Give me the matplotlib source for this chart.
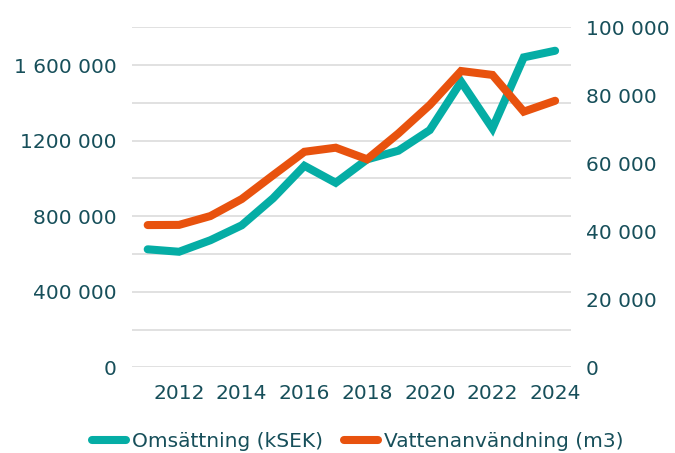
import matplotlib
matplotlib.use("Agg")
import matplotlib.pyplot as plt

plt.rcParams['font.family'] = ['DejaVu Sans']
FONT_SIZE = 14.5
TEXT_COLOR = '#174f5a'

years = [2011, 2012, 2013, 2014, 2015, 2016, 2017, 2018, 2019, 2020, 2021, 2022, 2023, 2024]
omsattning = [625000, 612000, 673000, 752000, 895000, 1067000, 977000, 1101000,
              1147000, 1256000, 1512000, 1265000, 1641000, 1676000]
vatten = [41850, 41900, 44500, 49500, 56500, 63400, 64600, 61200,
          68800, 77150, 87150, 86000, 75200, 78400]

left_ticks = [0, 400000, 800000, 1200000, 1600000]
left_labels = ['0', '400 000', '800 000', '1200 000', '1 600 000']
right_ticks = [0, 20000, 40000, 60000, 80000, 100000]
right_labels = ['0', '20 000', '40 000', '60 000', '80 000', '100 000']
year_ticks = [2012, 2014, 2016, 2018, 2020, 2022, 2024]

fig = plt.figure(figsize=(6.75, 4.53), dpi=100)
ax = fig.add_axes([0.1956, 0.189, 0.65, 0.7507])
ax2 = ax.twinx()

# gridlines every 200 000 on the left axis
for g in range(0, 1800001, 200000):
    ax.axhline(g, color='#d9d9d9', lw=1.1, zorder=0)

l1, = ax.plot(years, omsattning, color='#05ada5', lw=5.8, solid_capstyle='round',
              solid_joinstyle='miter', label='Omsättning (kSEK)', zorder=3)
l2, = ax2.plot(years, vatten, color='#e8520e', lw=5.8, solid_capstyle='round',
               solid_joinstyle='miter', label='Vattenanvändning (m3)', zorder=3)

ax.set_xlim(2010.5, 2024.5)
ax.set_ylim(0, 1800000)
ax2.set_ylim(0, 100000)

ax.set_yticks(left_ticks)
ax.set_yticklabels(left_labels)
ax2.set_yticks(right_ticks)
ax2.set_yticklabels(right_labels)
ax.set_xticks(year_ticks)
ax.set_xticklabels([str(y) for y in year_ticks])

for a in (ax, ax2):
    for s in a.spines.values():
        s.set_visible(False)
    a.tick_params(length=0, labelsize=FONT_SIZE, labelcolor=TEXT_COLOR)
ax.tick_params(axis='y', pad=11)
ax2.tick_params(axis='y', pad=11)
ax.tick_params(axis='x', pad=12)

fig.legend(handles=[l1, l2], loc='center', bbox_to_anchor=(0.53, 0.025), ncol=2,
           frameon=False, fontsize=FONT_SIZE, labelcolor=TEXT_COLOR,
           handlelength=1.7, handletextpad=0.3, columnspacing=1.0)

fig.savefig('out.png', dpi=100)
